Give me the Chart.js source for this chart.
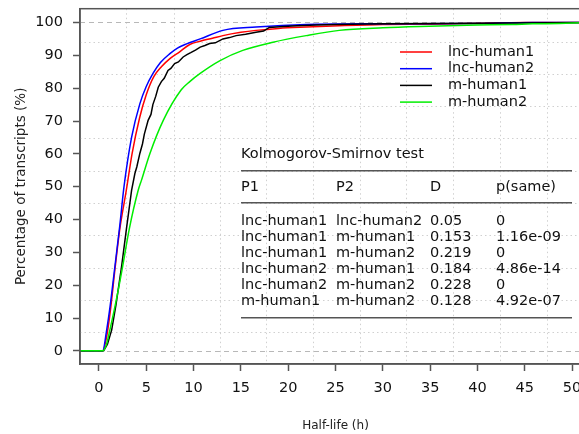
<!DOCTYPE html>
<html>
<head>
<meta charset="utf-8">
<script src="https://cdn.jsdelivr.net/npm/chart.js@4.4.1/dist/chart.umd.min.js"></script>
<style>
  html, body { margin: 0; padding: 0; background: #fff; overflow: hidden; }
  #wrap { width: 600px; height: 434px; overflow: hidden; }
  #ecdfChart { display: block; margin-top: -10px; }
</style>
</head>
<body>
<div id="wrap"><canvas id="ecdfChart" width="600" height="444"></canvas></div>
<script>
// Cumulative distribution of transcript half-lives

// Series
const seriesNames = ['lnc-human1', 'lnc-human2', 'm-human1', 'm-human2'];
const seriesColors = ['#ff0000', '#0000ff', '#000000', '#00ee00'];

// Half-life (h) and cumulative percentage
const lncHuman1X = [-2, 0.4, 0.8, 1.2, 1.7, 2.2, 2.9, 3.5, 4.3, 5.0, 5.8, 6.6, 7.5, 8.5, 9.6, 10.7, 12, 13.1, 15, 16.6, 19, 21.9, 25.4, 30, 35, 39.5, 45, 52];
const lncHuman1Y = [0, 0, 4, 12, 25, 37, 49, 60, 71, 78, 83.5, 86.5, 89, 91, 93.3, 94.3, 95.2, 96, 97, 97.6, 98.2, 98.6, 99, 99.4, 99.5, 99.7, 100, 100];

const lncHuman2X = [-2, 0.4, 0.8, 1.2, 1.7, 2.2, 2.65, 3.45, 4.33, 5.0, 5.7, 6.5, 7.5, 8.3, 9.26, 10.7, 13.1, 16.6, 21.9, 30, 40, 45.8, 52];
const lncHuman2Y = [0, 0, 6, 14, 26, 38, 50, 65, 75.3, 80.5, 84.4, 87.8, 90.5, 92.2, 93.5, 95, 97.6, 98.6, 99.4, 99.6, 99.7, 100, 100];

const mHuman1X = [-2, 0.5, 0.9, 1.35, 1.8, 2.39, 2.9, 3.45, 3.8, 4.0, 4.33, 4.6, 4.8, 5.2, 5.5, 5.7, 6.0, 6.27, 6.6, 6.9, 7.3, 7.6, 8.0, 8.4, 8.9, 9.3, 9.7, 10.2, 10.7, 11.2, 11.7, 12.3, 13.1, 13.8, 14.5, 15.5, 16.6, 17.4, 18, 19.5, 20.9, 23, 25, 30, 40, 52];
const mHuman1Y = [0, 0, 2, 6.4, 14, 25.6, 37, 48.9, 54, 56, 60.2, 63, 66, 70.2, 72, 75, 77.5, 80.3, 82, 83, 85.4, 86, 87.5, 88, 89.5, 90.2, 90.8, 91.6, 92.5, 93, 93.6, 93.8, 95, 95.4, 96, 96.4, 97, 97.4, 98.5, 98.8, 99, 99.2, 99.4, 99.6, 99.8, 100];

const mHuman2X = [-2, 0.4, 0.8, 1.16, 1.8, 2.5, 3.2, 4.15, 4.5, 5.4, 6.8, 8.7, 9.6, 10.7, 12.8, 15.2, 18.4, 21.9, 25.4, 30, 33.9, 40, 43.7, 45.8, 48.6, 52];
const mHuman2Y = [0, 0, 2, 6.4, 15, 25.6, 37, 48.9, 52, 60.2, 70.2, 79.5, 82, 84.5, 88.4, 91.5, 94, 96, 97.6, 98.4, 98.8, 99.2, 99.4, 99.6, 99.7, 100];

// Axes
const xTicks = [0, 5, 10, 15, 20, 25, 30, 35, 40, 45, 50];
const yTicks = [0, 10, 20, 30, 40, 50, 60, 70, 80, 90, 100];
const gridX = [2.9, 7.9, 12.8, 17.7, 22.6, 27.6, 32.5, 37.4, 42.4, 47.3];
const gridY = [5.7, 15.5, 25.3, 35.2, 45.0, 54.9, 64.7, 74.5, 84.3, 94.1];
const refLinesY = [0, 100];

// Kolmogorov-Smirnov table
const ksTitle = 'Kolmogorov-Smirnov test';
const ksHeader = ['P1', 'P2', 'D', 'p(same)'];
const ksP1 = ['lnc-human1', 'lnc-human1', 'lnc-human1', 'lnc-human2', 'lnc-human2', 'm-human1'];
const ksP2 = ['lnc-human2', 'm-human1', 'm-human2', 'm-human1', 'm-human2', 'm-human2'];
const ksD = ['0.05', '0.153', '0.219', '0.184', '0.228', '0.128'];
const ksP = ['0', '1.16e-09', '0', '4.86e-14', '0', '4.92e-07'];

const FONT = 'DejaVu Sans';
const FRAME = '#555555';
const SHIFT = 10; // canvas is pulled up by this many pixels

function toPoints(xs, ys) {
  return xs.map((x, i) => ({ x: x, y: ys[i] }));
}

const seriesData = [
  toPoints(lncHuman1X, lncHuman1Y),
  toPoints(lncHuman2X, lncHuman2Y),
  toPoints(mHuman1X, mHuman1Y),
  toPoints(mHuman2X, mHuman2Y)
];
const drawOrder = [3, 2, 1, 0];

// Dotted grid, dashed 0/100 lines and frame
const backdropPlugin = {
  id: 'backdrop',
  beforeDatasetsDraw(chart) {
    const { ctx, chartArea: a, scales } = chart;
    ctx.save();
    ctx.strokeStyle = '#d0d0d0';
    ctx.lineWidth = 1;
    ctx.setLineDash([1.5, 3]);
    gridX.forEach(v => {
      const px = Math.round(scales.x.getPixelForValue(v)) + 0.5;
      ctx.beginPath(); ctx.moveTo(px, a.top); ctx.lineTo(px, a.bottom); ctx.stroke();
    });
    gridY.forEach(v => {
      const py = Math.round(scales.y.getPixelForValue(v)) + 0.5;
      ctx.beginPath(); ctx.moveTo(a.left, py); ctx.lineTo(a.right, py); ctx.stroke();
    });
    ctx.strokeStyle = '#b8b8b8';
    ctx.setLineDash([5, 4]);
    refLinesY.forEach(v => {
      const py = Math.round(scales.y.getPixelForValue(v)) + 0.5;
      ctx.beginPath(); ctx.moveTo(a.left, py); ctx.lineTo(a.right, py); ctx.stroke();
    });
    ctx.restore();
  },
  afterDraw(chart) {
    const { ctx, chartArea: a } = chart;
    ctx.save();
    ctx.strokeStyle = FRAME;
    ctx.lineWidth = 1.5;
    ctx.strokeRect(a.left, a.top, a.right - a.left, a.bottom - a.top);
    ctx.restore();
  }
};

// Legend and KS table drawn inside the plot
const annotationPlugin = {
  id: 'annotations',
  afterDraw(chart) {
    const ctx = chart.ctx;
    ctx.save();
    ctx.translate(0, SHIFT);
    ctx.font = '14.5px "' + FONT + '"';
    ctx.textBaseline = 'middle';
    ctx.textAlign = 'left';

    // legend
    seriesNames.forEach((name, i) => {
      const y = 52 + i * 16.7;
      ctx.strokeStyle = seriesColors[i];
      ctx.lineWidth = 1.5;
      ctx.beginPath(); ctx.moveTo(400, y); ctx.lineTo(432, y); ctx.stroke();
      ctx.fillStyle = '#111';
      ctx.fillText(name, 448, y);
    });

    // table
    const cols = [241, 336, 430, 496];
    ctx.fillStyle = '#111';
    ctx.fillText(ksTitle, cols[0], 154);
    ksHeader.forEach((h, j) => ctx.fillText(h, cols[j], 187.7));
    ksP1.forEach((p1, i) => {
      const y = 221.7 + i * 16;
      [p1, ksP2[i], ksD[i], ksP[i]].forEach((t, j) => ctx.fillText(t, cols[j], y));
    });
    ctx.strokeStyle = FRAME;
    ctx.lineWidth = 1.5;
    [170.7, 202.7, 317.7].forEach(y => {
      ctx.beginPath(); ctx.moveTo(241, y); ctx.lineTo(572, y); ctx.stroke();
    });
    ctx.restore();
  }
};

new Chart(document.getElementById('ecdfChart'), {
  type: 'line',
  data: {
    datasets: seriesNames.map((name, i) => ({
      label: name,
      data: seriesData[i],
      borderColor: seriesColors[i],
      borderWidth: 1.5,
      pointRadius: 0,
      fill: false,
      order: drawOrder[i],
      cubicInterpolationMode: i === 2 ? 'default' : 'monotone',
      tension: 0
    }))
  },
  options: {
    responsive: false,
    animation: false,
    devicePixelRatio: 1,
    layout: { padding: { top: 0, right: 9, left: 0, bottom: 0 } },
    plugins: {
      legend: { display: false },
      tooltip: { enabled: false }
    },
    scales: {
      x: {
        type: 'linear',
        min: -2,
        max: 52,
        afterBuildTicks: s => { s.ticks = xTicks.map(v => ({ value: v })); },
        afterFit: s => { s.height = 70; },
        grid: { drawOnChartArea: false, drawTicks: true, tickLength: 7, tickColor: FRAME, tickWidth: 1.5 },
        border: { display: true, color: FRAME, width: 1.5 },
        ticks: { color: '#111', font: { family: FONT, size: 14.5 }, padding: 9, maxRotation: 0 },
        title: { display: true, text: 'Half-life (h)', color: '#222', font: { family: FONT, size: 12 }, padding: { top: 0, bottom: 1 } }
      },
      y: {
        type: 'linear',
        min: -4,
        max: 104.2,
        afterBuildTicks: s => { s.ticks = yTicks.map(v => ({ value: v })); },
        afterFit: s => { s.width = 80; },
        grid: { drawOnChartArea: false, drawTicks: true, tickLength: 7, tickColor: FRAME, tickWidth: 1.5 },
        border: { display: true, color: FRAME, width: 1.5 },
        ticks: { color: '#111', font: { family: FONT, size: 14.5 }, padding: 10 },
        title: { display: true, text: 'Percentage of transcripts (%)', color: '#222', font: { family: FONT, size: 13.5 }, padding: { top: 13.5, bottom: 0 } }
      }
    }
  },
  plugins: [backdropPlugin, annotationPlugin]
});
</script>
</body>
</html>
